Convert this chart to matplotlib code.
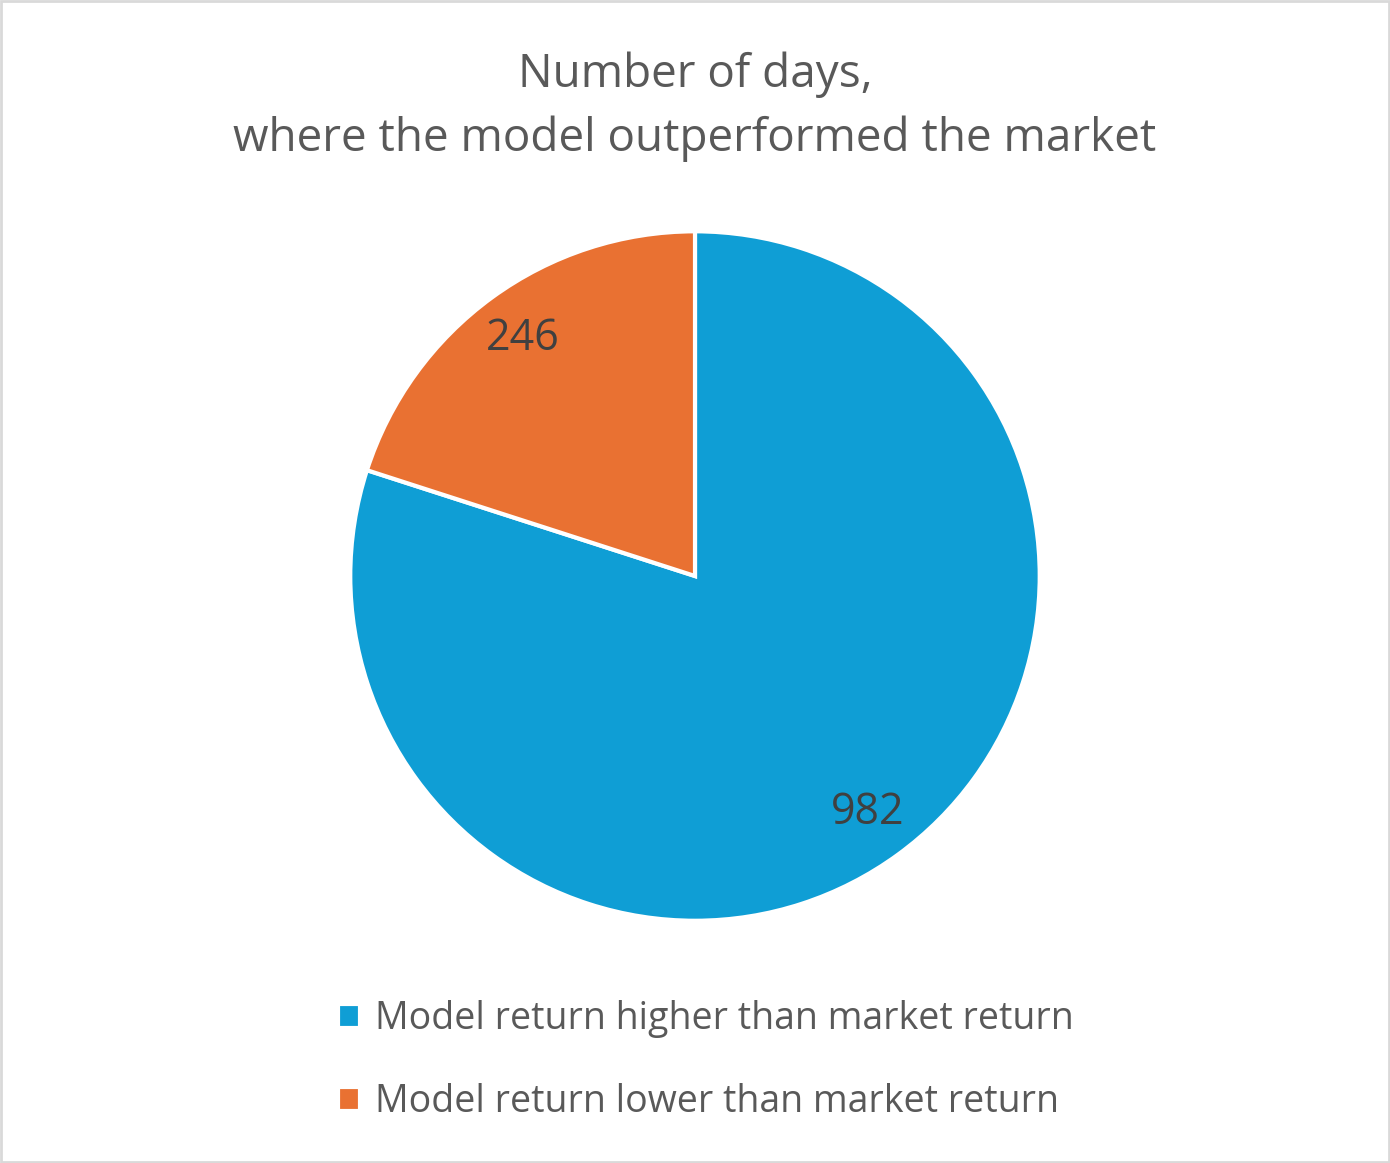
import matplotlib.pyplot as plt
from matplotlib.patches import Rectangle

labels = ["Model return higher than market return", "Model return lower than market return"]
values = [982, 246]
colors = ["#0F9ED5", "#E97132"]
title = "Number of days,\nwhere the model outperformed the market"

plt.rcParams['font.family'] = ['Open Sans', 'DejaVu Sans']

fig = plt.figure(figsize=(13.9, 11.63), dpi=100)
fig.patches.append(Rectangle((0.001, 0.001), 0.998, 0.998, transform=fig.transFigure,
                             fill=False, edgecolor="#D9D9D9", linewidth=2))

ax = fig.add_axes([0.5 - 0.248, 0.5047 - 0.2966, 0.496, 0.5932])
wedges, texts, autotexts = ax.pie(values, colors=colors, startangle=90, counterclock=False,
                                  radius=1, pctdistance=0.85,
                                  autopct=lambda p: f"{round(p * sum(values) / 100):d}",
                                  wedgeprops=dict(edgecolor="white", linewidth=3),
                                  textprops=dict(fontsize=31, color="#404040"))
ax.set_xlim(-1, 1)
ax.set_ylim(-1, 1)
ax.set_aspect("equal")

fig.text(0.5, 0.908, title, ha="center", va="center", fontsize=33, color="#595959",
         linespacing=1.5)

leg = fig.legend(wedges, labels, loc="upper left", bbox_to_anchor=(0.243, 0.140),
                 frameon=False, fontsize=27, handlelength=0.6, handleheight=0.6,
                 handletextpad=0.4, labelspacing=1.2, labelcolor="#595959",
                 borderaxespad=0, borderpad=0)

fig.savefig("out.png", dpi=100)
